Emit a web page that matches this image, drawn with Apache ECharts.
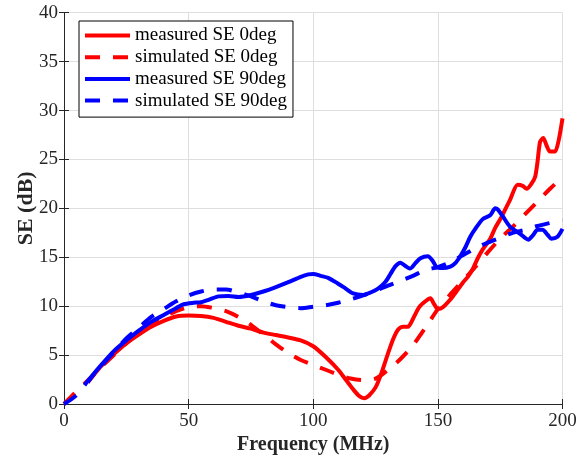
<!DOCTYPE html>
<html>
<head>
<meta charset="utf-8">
<script src="https://cdn.jsdelivr.net/npm/echarts@6/dist/echarts.min.js"></script>
<style>
  html, body { margin: 0; padding: 0; background: #fff; }
  #chart { width: 586px; height: 461px; }
</style>
</head>
<body>
<div id="chart"></div>
<script>
// Shielding effectiveness vs. frequency, measured and simulated, two orientations
var seriesNames = ['measured SE 0deg', 'simulated SE 0deg', 'measured SE 90deg', 'simulated SE 90deg'];

var xTicks = [0, 50, 100, 150, 200];
var yTicks = [0, 5, 10, 15, 20, 25, 30, 35, 40];

var measured0Freq = [9.5, 12, 15, 20, 25, 30, 35, 40, 45, 50, 55, 60, 65, 70, 75, 80, 85, 90, 95, 100,
  105, 110, 113, 116, 118.5, 120.5, 122.5, 125, 127, 129.5, 132, 134, 136, 138, 140, 142.5, 145, 147,
  148.5, 150, 152, 156, 160, 162, 164, 166, 168, 171, 173, 175.6, 179, 182, 184, 185.6, 187.5, 189,
  190, 191, 192.3, 193.5, 195, 197, 198.5, 200];
var measured0SE = [2.2, 3.0, 3.9, 5.1, 6.2, 7.1, 7.9, 8.5, 8.95, 9.05, 9.0, 8.8, 8.4, 8.0, 7.7, 7.3,
  7.05, 6.8, 6.5, 5.9, 4.8, 3.5, 2.5, 1.5, 0.8, 0.6, 0.9, 1.7, 2.9, 4.8, 6.6, 7.6, 7.9, 7.9, 8.7, 9.9,
  10.5, 10.8, 10.2, 9.7, 9.9, 11.0, 12.4, 13.0, 13.8, 14.9, 15.8, 16.9, 18.0, 19.15, 20.9, 22.4, 22.3,
  22.0, 22.5, 23.2, 24.8, 26.8, 27.2, 26.5, 25.8, 25.8, 27.0, 29.2];

var simulated0Freq = [0, 5, 10, 15, 20, 25, 30, 35, 40, 45, 50, 55, 60, 65, 70, 75, 80, 85, 90, 95,
  100, 105, 110, 115, 120, 125, 130, 135, 140, 145, 150, 155, 160, 165, 170, 175, 180, 185, 190, 195, 200];
var simulated0SE = [0, 1.3, 2.5, 3.8, 5.0, 6.2, 7.3, 8.2, 8.9, 9.5, 9.9, 10.0, 9.8, 9.5, 8.9, 8.1,
  7.1, 6.1, 5.2, 4.5, 4.0, 3.5, 3.0, 2.6, 2.45, 2.6, 3.5, 4.6, 6.0, 7.8, 9.7, 11.2, 12.6, 14.0, 15.5,
  16.9, 18.1, 19.4, 20.7, 22.0, 23.2];

var measured90Freq = [9.5, 12, 15, 20, 25, 30, 35, 40, 45, 48, 52, 55, 58, 62, 66, 70, 75, 80, 85, 90,
  95, 98, 100, 103, 106, 110, 113, 116, 120, 123, 126, 129, 131, 133, 135, 137, 138.8, 141, 143, 146,
  148, 149.5, 152, 155, 157, 159, 161, 163, 165, 168, 171, 173, 174, 176, 179, 183, 186.3, 188, 190,
  192, 194, 195.5, 198, 200];
var measured90SE = [2.2, 3.1, 4.0, 5.4, 6.5, 7.5, 8.4, 9.1, 9.8, 10.2, 10.35, 10.4, 10.65, 11.0, 11.05,
  10.95, 11.15, 11.5, 11.95, 12.45, 13.0, 13.25, 13.3, 13.1, 12.9, 12.3, 11.8, 11.3, 11.15, 11.4, 11.8,
  12.5, 13.3, 14.1, 14.45, 14.1, 13.85, 14.4, 14.9, 15.1, 14.6, 14.0, 13.9, 14.05, 14.4, 15.1, 16.0,
  17.1, 17.9, 18.9, 19.3, 20.0, 19.9, 19.2, 18.1, 17.4, 16.8, 17.2, 17.8, 17.8, 17.3, 16.9, 17.1, 17.9];

var simulated90Freq = [0, 5, 10, 15, 20, 25, 30, 35, 40, 45, 50, 55, 60, 65, 70, 75, 80, 85, 90, 95,
  100, 105, 110, 115, 120, 125, 130, 135, 140, 145, 150, 155, 160, 165, 170, 175, 180, 185, 190, 195, 200];
var simulated90SE = [0, 0.9, 2.5, 3.9, 5.3, 6.7, 7.8, 8.9, 9.7, 10.5, 11.1, 11.5, 11.7, 11.7, 11.4,
  11.0, 10.5, 10.1, 9.9, 9.8, 9.95, 10.1, 10.35, 10.7, 11.1, 11.6, 12.1, 12.6, 13.1, 13.7, 14.0, 14.5,
  15.2, 15.9, 16.5, 17.0, 17.5, 17.8, 18.2, 18.5, 18.8];

function pairs(xs, ys) {
  return xs.map(function (x, i) { return [x, ys[i]]; });
}

var FONT = '"Liberation Serif", "Times New Roman", serif';
var AXIS_COLOR = '#262626';
var GRID_COLOR = '#dedede';
var DASH = [15, 13];
var RED = '#ff0000';
var BLUE = '#0000ff';

// line style per series, shared by the plot lines and the legend samples
var styles = [
  { color: RED, width: 4, type: 'solid' },
  { color: RED, width: 4, type: DASH, cap: 'butt' },
  { color: BLUE, width: 4, type: 'solid' },
  { color: BLUE, width: 4, type: DASH, cap: 'butt' }
];

var chart = echarts.init(document.getElementById('chart'), null, { renderer: 'canvas' });

var boxAxis = {
  axisLine: { show: true, lineStyle: { color: AXIS_COLOR, width: 1 } },
  axisTick: { show: true, inside: true, length: 5, lineStyle: { color: AXIS_COLOR } },
  axisLabel: { show: false },
  splitLine: { show: false }
};

chart.setOption({
  animation: false,
  backgroundColor: '#fff',
  grid: { left: 64, right: 23.5, top: 12.7, bottom: 57, containLabel: false, outerBoundsMode: 'none' },
  legend: {
    orient: 'vertical',
    left: 79,
    top: 21,
    data: seriesNames.map(function (n, i) {
      return {
        name: n,
        itemStyle: { opacity: 0 },
        lineStyle: styles[i]
      };
    }),
    itemWidth: 45,
    itemHeight: 20,
    itemGap: 2.7,
    padding: [5, 6, 7, 4],
    borderColor: '#000',
    borderWidth: 1,
    backgroundColor: '#fff',
    textStyle: { fontFamily: FONT, fontSize: 19, color: '#000' }
  },
  xAxis: [
    {
      type: 'value', min: xTicks[0], max: xTicks[xTicks.length - 1], interval: 50,
      name: 'Frequency (MHz)', nameLocation: 'middle', nameGap: 31, nameMoveOverlap: false,
      nameTextStyle: { fontFamily: FONT, fontSize: 20, fontWeight: 'bold', color: AXIS_COLOR },
      axisLine: { show: true, lineStyle: { color: AXIS_COLOR, width: 1 } },
      axisTick: { show: true, inside: true, length: 5, lineStyle: { color: AXIS_COLOR } },
      axisLabel: { fontFamily: FONT, fontSize: 19, color: AXIS_COLOR, margin: 8 },
      splitLine: { show: true, lineStyle: { color: GRID_COLOR, width: 1 } }
    },
    Object.assign({ type: 'value', position: 'top', min: 0, max: 200, interval: 50 }, boxAxis)
  ],
  yAxis: [
    {
      type: 'value', min: yTicks[0], max: yTicks[yTicks.length - 1], interval: 5,
      name: 'SE (dB)', nameLocation: 'middle', nameGap: 27, nameMoveOverlap: false,
      nameTextStyle: { fontFamily: FONT, fontSize: 22, fontWeight: 'bold', color: AXIS_COLOR },
      axisLine: { show: true, lineStyle: { color: AXIS_COLOR, width: 1 } },
      axisTick: { show: true, inside: true, length: 5, lineStyle: { color: AXIS_COLOR } },
      axisLabel: { fontFamily: FONT, fontSize: 19, color: AXIS_COLOR, margin: 6 },
      splitLine: { show: true, lineStyle: { color: GRID_COLOR, width: 1 } }
    },
    Object.assign({ type: 'value', position: 'right', min: 0, max: 40, interval: 5 }, boxAxis)
  ],
  series: [
    {
      name: seriesNames[0], type: 'line', data: pairs(measured0Freq, measured0SE),
      showSymbol: false, symbol: 'none', smooth: 0.25, z: 3,
      lineStyle: styles[0], itemStyle: { color: RED }
    },
    {
      name: seriesNames[1], type: 'line', data: pairs(simulated0Freq, simulated0SE),
      showSymbol: false, symbol: 'none', smooth: 0.3, z: 2,
      lineStyle: styles[1], itemStyle: { color: RED }
    },
    {
      name: seriesNames[2], type: 'line', data: pairs(measured90Freq, measured90SE),
      showSymbol: false, symbol: 'none', smooth: 0.25, z: 5,
      lineStyle: styles[2], itemStyle: { color: BLUE }
    },
    {
      name: seriesNames[3], type: 'line', data: pairs(simulated90Freq, simulated90SE),
      showSymbol: false, symbol: 'none', smooth: 0.3, z: 4,
      lineStyle: styles[3], itemStyle: { color: BLUE }
    }
  ]
});
</script>
</body>
</html>
